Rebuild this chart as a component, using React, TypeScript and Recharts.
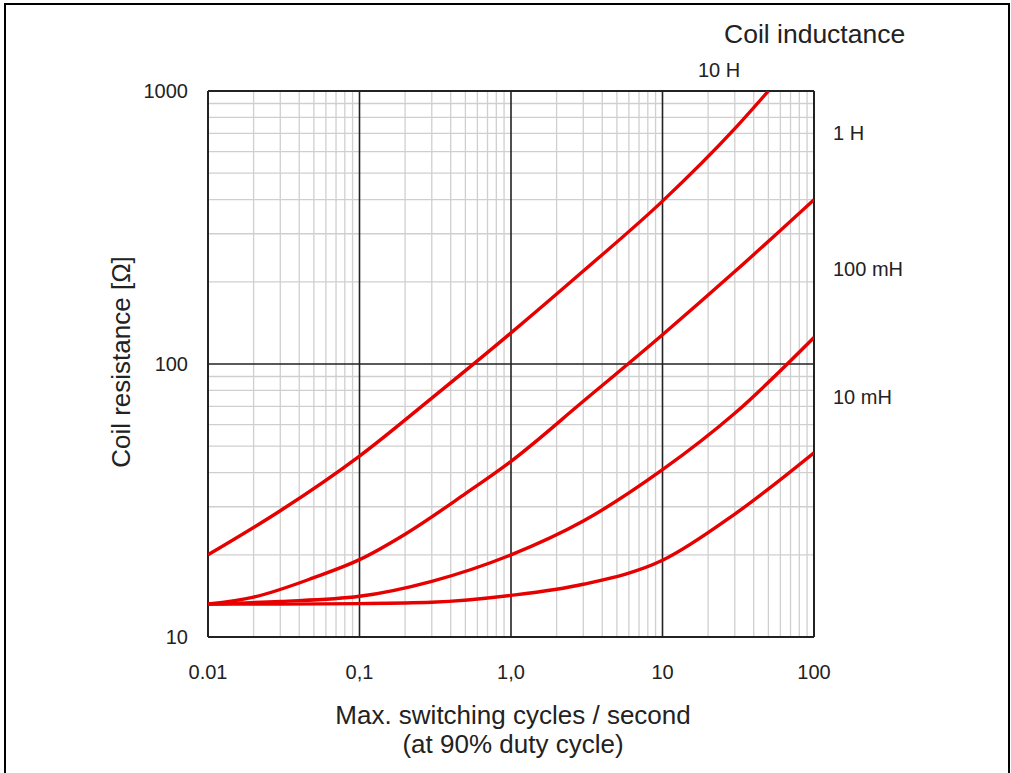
import React from "react";
import { LineChart, Line, XAxis, YAxis, ReferenceLine } from "recharts";

const xTicks = [0.01, 0.1, 1, 10, 100];
const xTickLabels = ["0.01", "0,1", "1,0", "10", "100"];
const yTicks = [10, 100, 1000];
const yTickLabels = ["10", "100", "1000"];

const xMinor = [0.02, 0.03, 0.04, 0.05, 0.06, 0.07, 0.08, 0.09, 0.2, 0.3, 0.4, 0.5, 0.6, 0.7, 0.8, 0.9, 2, 3, 4, 5, 6, 7, 8, 9, 20, 30, 40, 50, 60, 70, 80, 90];
const yMinor = [20, 30, 40, 50, 60, 70, 80, 90, 200, 300, 400, 500, 600, 700, 800, 900];
const xMajor = [0.1, 1, 10];
const yMajor = [100];

const freq10H = [0.01, 0.03, 0.1, 0.3, 1, 3, 10, 30, 50];
const res10H = [20, 29, 46, 75, 130, 219, 395, 728, 1000];

const freq1H = [0.01, 0.02, 0.05, 0.1, 0.2, 0.5, 1, 3, 10, 30, 100];
const res1H = [13.2, 14.0, 16.5, 19.2, 23.8, 33.5, 44, 73, 128, 218, 400];

const freq100mH = [0.01, 0.03, 0.1, 0.3, 1, 3, 10, 30, 100];
const res100mH = [13.2, 13.5, 14.1, 16, 20, 26.6, 41, 66, 125];

const freq10mH = [0.01, 0.03, 0.1, 0.3, 1, 3, 10, 30, 100];
const res10mH = [13.2, 13.2, 13.25, 13.4, 14.2, 15.6, 19.1, 28.2, 47.3];

const build = (f: number[], r: number[]) => f.map((v, i) => ({ f: v, r: r[i] }));

const series = [
  { name: "10 H", data: build(freq10H, res10H) },
  { name: "1 H", data: build(freq1H, res1H) },
  { name: "100 mH", data: build(freq100mH, res100mH) },
  { name: "10 mH", data: build(freq10mH, res10mH) },
];

const FONT = '"Liberation Sans", Arial, sans-serif';
const RED = "#e60000";
const DARK = "#222222";
const LIGHT = "#cfcfcf";

const txt: React.CSSProperties = {
  position: "absolute",
  fontFamily: FONT,
  color: "#222",
  whiteSpace: "nowrap",
  lineHeight: 1,
};

export default function App() {
  return (
    <div style={{ position: "fixed", left: 0, top: 0, width: 1011, height: 773, overflow: "hidden", background: "#fff" }}>
      <div style={{ position: "absolute", left: 4, top: 3, width: 1002, height: 800, border: "2px solid #000" }} />
      <div style={{ position: "absolute", left: 0, top: 0 }}>
        <LineChart width={1011} height={773} margin={{ top: 91, right: 197, bottom: 106, left: 148 }}>
          <XAxis
            dataKey="f"
            type="number"
            scale="log"
            domain={[0.01, 100]}
            ticks={xTicks}
            tickFormatter={(v: number) => xTickLabels[xTicks.indexOf(v)] ?? String(v)}
            axisLine={false}
            tickLine={false}
            tickSize={0}
            tickMargin={28}
            height={30}
            allowDataOverflow
            tick={{ fontSize: 20, fill: "#222", fontFamily: FONT }}
          />
          <YAxis
            dataKey="r"
            type="number"
            scale="log"
            domain={[10, 1000]}
            ticks={yTicks}
            tickFormatter={(v: number) => yTickLabels[yTicks.indexOf(v)] ?? String(v)}
            axisLine={false}
            tickLine={false}
            tickSize={0}
            tickMargin={20}
            width={60}
            allowDataOverflow
            tick={{ fontSize: 20, fill: "#222", fontFamily: FONT }}
          />
          {xMinor.map((v) => (
            <ReferenceLine key={"xm" + v} x={v} stroke={LIGHT} strokeWidth={1.3} />
          ))}
          {yMinor.map((v) => (
            <ReferenceLine key={"ym" + v} y={v} stroke={LIGHT} strokeWidth={1.3} />
          ))}
          {xMajor.map((v) => (
            <ReferenceLine key={"xM" + v} x={v} stroke={DARK} strokeWidth={1.6} />
          ))}
          {yMajor.map((v) => (
            <ReferenceLine key={"yM" + v} y={v} stroke={DARK} strokeWidth={1.6} />
          ))}
          <ReferenceLine x={0.01} stroke={DARK} strokeWidth={2} />
          <ReferenceLine x={100} stroke={DARK} strokeWidth={2} />
          <ReferenceLine y={10} stroke={DARK} strokeWidth={2} />
          <ReferenceLine y={1000} stroke={DARK} strokeWidth={2} />
          {series.map((s) => (
            <Line
              key={s.name}
              name={s.name}
              data={s.data}
              dataKey="r"
              type="monotone"
              stroke={RED}
              strokeWidth={3.4}
              dot={false}
              activeDot={false}
              isAnimationActive={false}
            />
          ))}
        </LineChart>
      </div>
      <div style={{ ...txt, left: 724, top: 21, fontSize: 26.5 }}>Coil inductance</div>
      <div style={{ ...txt, left: 698, top: 60, fontSize: 20 }}>10 H</div>
      <div style={{ ...txt, left: 833, top: 123, fontSize: 20 }}>1 H</div>
      <div style={{ ...txt, left: 833, top: 259, fontSize: 20 }}>100 mH</div>
      <div style={{ ...txt, left: 833, top: 387, fontSize: 20 }}>10 mH</div>
      <div style={{ ...txt, left: 313, top: 701, width: 400, textAlign: "center", fontSize: 26, lineHeight: "29px" }}>
        Max. switching cycles / second
        <br />
        (at 90% duty cycle)
      </div>
      <div
        style={{
          ...txt,
          left: 121,
          top: 362,
          fontSize: 26,
          transform: "translate(-50%, -50%) rotate(-90deg)",
        }}
      >
        Coil resistance [Ω]
      </div>
    </div>
  );
}
